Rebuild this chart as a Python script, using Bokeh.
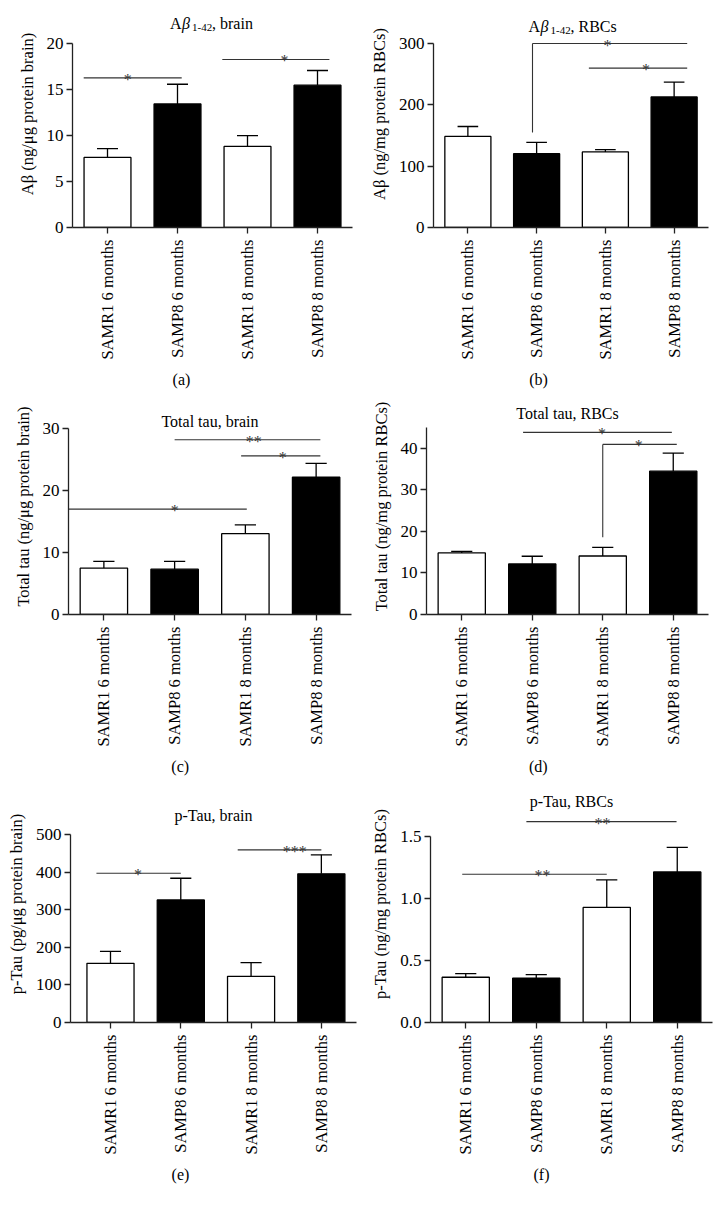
import math
from bokeh.plotting import figure
from bokeh.models import Range1d, FixedTicker, NumeralTickFormatter, Title
from bokeh.layouts import row, column
from bokeh.embed import file_html
from bokeh.resources import INLINE
from bokeh.core.properties import value

FONT = "Liberation Serif"

# ---------------- data ----------------
groups = ["SAMR1 6 months", "SAMP8 6 months", "SAMR1 8 months", "SAMP8 8 months"]
bar_colors = ["white", "black", "white", "black"]

# (a) Abeta 1-42, brain
ab_brain_mean = [7.63, 13.45, 8.83, 15.5]
ab_brain_sem = [0.97, 2.15, 1.17, 1.6]
ab_brain_yticks = [0, 5, 10, 15, 20]
ab_brain_sig_x0 = [0.66, 2.64]
ab_brain_sig_x1 = [2.06, 4.17]
ab_brain_sig_y = [16.3, 18.3]
ab_brain_sig_text = ["*", "*"]
ab_brain_sig_tx = [1.29, 3.53]
ab_brain_sig_drop = [None, None]

# (b) Abeta 1-42, RBCs
ab_rbc_mean = [148.5, 120.4, 123.2, 212.8]
ab_rbc_sem = [16.2, 18.3, 3.7, 24.3]
ab_rbc_yticks = [0, 100, 200, 300]
ab_rbc_sig_x0 = [1.94, 2.76]
ab_rbc_sig_x1 = [4.19, 4.19]
ab_rbc_sig_y = [300, 260]
ab_rbc_sig_text = ["*", "*"]
ab_rbc_sig_tx = [3.03, 3.59]
ab_rbc_sig_drop = [155, None]

# (c) Total tau, brain
tau_brain_mean = [7.48, 7.32, 13.05, 22.15]
tau_brain_sem = [1.08, 1.24, 1.4, 2.25]
tau_brain_yticks = [0, 10, 20, 30]
tau_brain_sig_x0 = [2.0, 2.94, 0.32]
tau_brain_sig_x1 = [4.06, 4.06, 3.02]
tau_brain_sig_y = [28.2, 25.6, 17.0]
tau_brain_sig_text = ["**", "*", "*"]
tau_brain_sig_tx = [3.12, 3.53, 2.0]
tau_brain_sig_drop = [None, None, None]

# (d) Total tau, RBCs
tau_rbc_mean = [14.8, 12.15, 14.07, 34.46]
tau_rbc_sem = [0.4, 1.85, 2.08, 4.34]
tau_rbc_yticks = [0, 10, 20, 30, 40]
tau_rbc_sig_x0 = [1.87, 3.0]
tau_rbc_sig_x1 = [3.98, 4.05]
tau_rbc_sig_y = [43.8, 40.9]
tau_rbc_sig_text = ["*", "*"]
tau_rbc_sig_tx = [2.99, 3.51]
tau_rbc_sig_drop = [None, 18.6]

# (e) p-Tau, brain
ptau_brain_mean = [157.6, 326.7, 123.0, 396.0]
ptau_brain_sem = [32.0, 57.6, 36.5, 50.7]
ptau_brain_yticks = [0, 100, 200, 300, 400, 500]
ptau_brain_sig_x0 = [0.80, 2.81]
ptau_brain_sig_x1 = [2.0, 4.0]
ptau_brain_sig_y = [397.6, 460]
ptau_brain_sig_text = ["*", "***"]
ptau_brain_sig_tx = [1.39, 3.62]
ptau_brain_sig_drop = [None, None]

# (f) p-Tau, RBCs
ptau_rbc_mean = [0.365, 0.357, 0.928, 1.214]
ptau_rbc_sem = [0.029, 0.029, 0.222, 0.199]
ptau_rbc_yticks = [0.0, 0.5, 1.0, 1.5]
ptau_rbc_sig_x0 = [0.95, 1.86]
ptau_rbc_sig_x1 = [3.0, 3.99]
ptau_rbc_sig_y = [1.196, 1.62]
ptau_rbc_sig_text = ["**", "**"]
ptau_rbc_sig_tx = [2.09, 2.94]
ptau_rbc_sig_drop = [None, None]

# ---------------- layout (page px) ----------------
COL_L = (0, 361)
COL_R = (361, 722)
ROWS = [(0, 398), (398, 785), (785, 1205)]


def make_panel(letter, title, ylabel, mean, sem, yticks, axis_top, fmt,
               sig_x0, sig_x1, sig_y, sig_text, sig_tx, sig_drop,
               col, rowi, frame_l, frame_r, y0_px, ytop_px, x_start,
               title_base, cap_center, cap_w):
    cl, cr = (COL_L, COL_R)[col]
    rt, rb = ROWS[rowi]
    scale = (y0_px - ytop_px) / yticks[-1]
    y_end = (y0_px - rt) / scale
    p = figure(width=cr - cl, height=rb - rt, output_backend="svg",
               toolbar_location=None,
               x_range=Range1d(x_start, 4.5), y_range=Range1d(0, y_end),
               min_border_left=round(frame_l - cl),
               min_border_right=round(cr - frame_r),
               min_border_top=0, min_border_bottom=round(rb - y0_px))
    p.outline_line_color = None
    p.xgrid.visible = False
    p.ygrid.visible = False
    p.background_fill_color = "white"
    p.border_fill_color = "white"

    xs = [1, 2, 3, 4]
    tops = [m + s for m, s in zip(mean, sem)]
    p.segment(x0=xs, y0=mean, x1=xs, y1=tops, line_color="black", line_width=1.3)
    p.vbar(x=xs, top=mean, bottom=0, width=0.67, fill_color=bar_colors,
           line_color="black", line_width=1.3)
    p.segment(x0=[x - 0.15 for x in xs], y0=tops, x1=[x + 0.15 for x in xs],
              y1=tops, line_color="black", line_width=1.3)

    # significance brackets
    p.segment(x0=sig_x0, y0=sig_y, x1=sig_x1, y1=sig_y, line_color="#333333",
              line_width=1.1)
    dx = [x for x, d in zip(sig_x0, sig_drop) if d is not None]
    dtop = [y for y, d in zip(sig_y, sig_drop) if d is not None]
    dbot = [d for d in sig_drop if d is not None]
    if dx:
        p.segment(x0=dx, y0=dbot, x1=dx, y1=dtop, line_color="#333333",
                  line_width=1.1)
    p.text(x=sig_tx, y=sig_y, text=sig_text, text_align="center",
           text_baseline="alphabetic", y_offset=1.5,
           text_font=value(FONT), text_font_size="16px", text_color="#333333")

    # title (inside extended frame, at top)
    xc = (x_start + 4.5) / 2
    toff = title_base - rt
    if isinstance(title, tuple):
        rest = title[0]
        a0 = -31.0   # right edge of "A" relative to frame centre
        p.text(x=[xc], y=[y_end], text=["A"], x_offset=a0, y_offset=toff,
               text_align="right", text_baseline="alphabetic",
               text_font=value(FONT), text_font_size="16px", text_color="black")
        p.text(x=[xc], y=[y_end], text=["β"], x_offset=a0 + 0.5, y_offset=toff,
               text_align="left", text_baseline="alphabetic", text_font_style="italic",
               text_font=value(FONT), text_font_size="16px", text_color="black")
        p.text(x=[xc], y=[y_end], text=["1-42"], x_offset=a0 + 10.5, y_offset=toff + 4,
               text_align="left", text_baseline="alphabetic",
               text_font=value(FONT), text_font_size="11px", text_color="black")
        p.text(x=[xc], y=[y_end], text=[rest], x_offset=a0 + 30.5, y_offset=toff,
               text_align="left", text_baseline="alphabetic",
               text_font=value(FONT), text_font_size="16px", text_color="black")
    else:
        p.text(x=[xc], y=[y_end], text=[title], y_offset=toff,
               text_align="center", text_baseline="alphabetic",
               text_font=value(FONT), text_font_size="16px", text_color="black")

    # axes
    for ax in (p.xaxis, p.yaxis):
        ax.axis_line_color = "#222222"
        ax.axis_line_width = 1.3
        ax.major_tick_line_color = "#222222"
        ax.major_tick_line_width = 1.3
        ax.major_tick_out = 6
        ax.major_tick_in = 0
        ax.minor_tick_line_color = None
        ax.major_label_text_font = FONT
        ax.major_label_text_color = "black"

    p.xaxis.major_label_text_font_size = "16.5px"
    p.yaxis.major_label_text_font_size = "17px"

    p.xaxis.ticker = FixedTicker(ticks=xs)
    p.xaxis.major_label_overrides = {x: g for x, g in zip(xs, groups)}
    p.xaxis.major_label_orientation = math.pi / 2
    p.xaxis.major_label_standoff = 6

    p.yaxis.ticker = FixedTicker(ticks=yticks)
    p.yaxis.bounds = (0, axis_top)
    p.yaxis.major_label_standoff = 3
    if fmt:
        p.yaxis.formatter = NumeralTickFormatter(format=fmt)
    p.yaxis.axis_label = ylabel
    p.yaxis.axis_label_text_font = FONT
    p.yaxis.axis_label_text_font_size = "16.5px"
    p.yaxis.axis_label_text_font_style = "normal"
    p.yaxis.axis_label_text_color = "black"
    p.yaxis.axis_label_standoff = 7

    cap = Title(text="(" + letter + ")", align="left",
                offset=cap_center - cap_w / 2 - frame_l,
                text_font=FONT, text_font_size="16px", text_font_style="normal",
                text_color="black", vertical_align="top", standoff=16)
    p.add_layout(cap, "below")
    return p


pa = make_panel("a", (", brain",), "Aβ (ng/μg protein brain)", ab_brain_mean, ab_brain_sem,
                ab_brain_yticks, 20, None, ab_brain_sig_x0, ab_brain_sig_x1, ab_brain_sig_y,
                ab_brain_sig_text, ab_brain_sig_tx, ab_brain_sig_drop,
                0, 0, 71.7, 351.7, 226.7, 43.3, 0.5, 22.7, 180.7, 17.8)
pb = make_panel("b", (", RBCs",), "Aβ (ng/mg protein RBCs)", ab_rbc_mean, ab_rbc_sem,
                ab_rbc_yticks, 300, None, ab_rbc_sig_x0, ab_rbc_sig_x1, ab_rbc_sig_y,
                ab_rbc_sig_text, ab_rbc_sig_tx, ab_rbc_sig_drop,
                1, 0, 432.7, 708.3, 228.3, 43.3, 0.5, 26.0, 537.7, 18.6)
pc = make_panel("c", "Total tau, brain", "Total tau (ng/μg protein brain)", tau_brain_mean,
                tau_brain_sem, tau_brain_yticks, 30, None, tau_brain_sig_x0, tau_brain_sig_x1,
                tau_brain_sig_y, tau_brain_sig_text, tau_brain_sig_tx, tau_brain_sig_drop,
                0, 1, 68.3, 351.5, 615.3, 428.3, 0.5, 420.7, 180.0, 17.8)
pd_ = make_panel("d", "Total tau, RBCs", "Total tau (ng/mg protein RBCs)", tau_rbc_mean,
                 tau_rbc_sem, tau_rbc_yticks, 45, None, tau_rbc_sig_x0, tau_rbc_sig_x1,
                 tau_rbc_sig_y, tau_rbc_sig_text, tau_rbc_sig_tx, tau_rbc_sig_drop,
                 1, 1, 426.0, 708.0, 614.3, 447.7, 0.5, 413.3, 537.7, 18.6)
pe = make_panel("e", "p-Tau, brain", "p-Tau (pg/μg protein brain)", ptau_brain_mean,
                ptau_brain_sem, ptau_brain_yticks, 500, None, ptau_brain_sig_x0,
                ptau_brain_sig_x1, ptau_brain_sig_y, ptau_brain_sig_text, ptau_brain_sig_tx,
                ptau_brain_sig_drop,
                0, 2, 70.0, 356.0, 1021.8, 834.3, 0.431, 815.0, 180.0, 17.8)
pf = make_panel("f", "p-Tau, RBCs", "p-Tau (ng/mg protein RBCs)", ptau_rbc_mean,
                ptau_rbc_sem, ptau_rbc_yticks, 1.5, "0.0", ptau_rbc_sig_x0, ptau_rbc_sig_x1,
                ptau_rbc_sig_y, ptau_rbc_sig_text, ptau_rbc_sig_tx, ptau_rbc_sig_drop,
                1, 2, 430.0, 712.0, 1025.2, 836.7, 0.5, 801.0, 541.0, 16.0)

layout = column(row(pa, pb), row(pc, pd_), row(pe, pf))
open("out.html", "w").write(file_html(layout, INLINE))
